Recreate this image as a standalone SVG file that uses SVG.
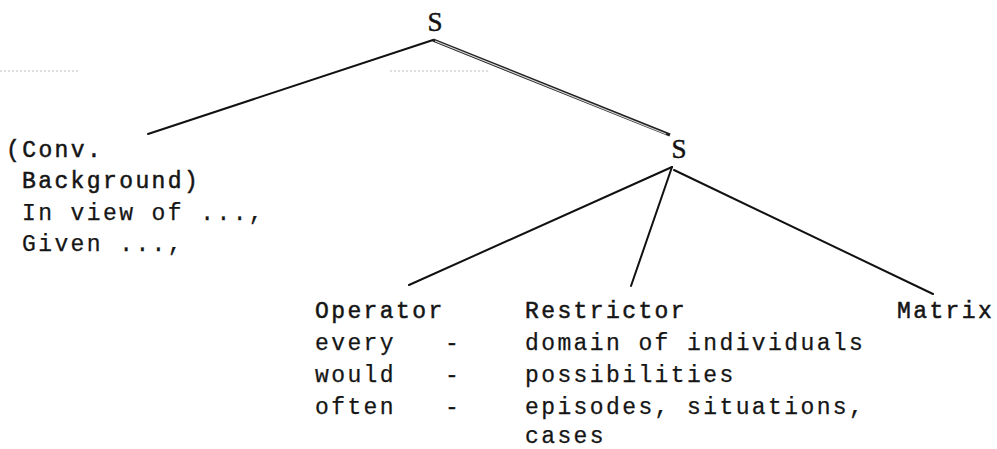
<svg xmlns="http://www.w3.org/2000/svg" width="997" height="449" viewBox="0 0 997 449">
<style>
.t{font-family:"Liberation Mono","Courier New",monospace;font-size:23px;letter-spacing:2.4px;fill:#151515;stroke:#151515;stroke-width:0.25px;white-space:pre}
.b{stroke-width:0.5px}
.s{font-family:"Liberation Serif","Times New Roman",serif;font-size:27px;fill:#111;stroke:#111;stroke-width:0.5px;text-anchor:middle}
.ln{stroke:#111;stroke-width:2;fill:none;stroke-linecap:round}
.dot{stroke:#bbb;stroke-width:1;stroke-dasharray:2 2;fill:none}
</style>
<rect width="997" height="449" fill="#fff"/>
<g id="guides">
<line class="dot" x1="0" y1="71" x2="78" y2="71"/>
<line class="dot" x1="390" y1="71" x2="490" y2="71"/>
</g>
<g id="connectors">
<line class="ln" x1="433" y1="40" x2="148" y2="134"/>
<line x1="433" y1="40" x2="670" y2="135" stroke="#222" stroke-width="3.4"/>
<line x1="435" y1="41" x2="666" y2="134" stroke="#d8d8d8" stroke-width="1.1"/>
<line class="ln" x1="672" y1="167" x2="409" y2="285"/>
<line class="ln" x1="672" y1="167" x2="631" y2="286"/>
<line class="ln" x1="674" y1="170" x2="933" y2="294"/>
</g>
<g id="root-s"><text class="s" x="435" y="31">S</text></g>
<g id="s2"><text class="s" x="679" y="158">S</text></g>
<g id="background">
<text class="t b" x="6" y="157">(Conv.</text>
<text class="t b" x="22" y="188">Background)</text>
<text class="t" x="22" y="220">In view of ...,</text>
<text class="t" x="22" y="251">Given ...,</text>
</g>
<g id="operator">
<text class="t b" x="315" y="318">Operator</text>
<text class="t" x="315" y="350">every</text>
<text class="t" x="315" y="382">would</text>
<text class="t" x="315" y="414">often</text>
<text class="t" x="445" y="350">-</text>
<text class="t" x="445" y="382">-</text>
<text class="t" x="445" y="414">-</text>
</g>
<g id="restrictor">
<text class="t b" x="525" y="318">Restrictor</text>
<text class="t" x="525" y="350">domain of individuals</text>
<text class="t" x="525" y="382">possibilities</text>
<text class="t" x="525" y="414">episodes, situations,</text>
<text class="t" x="525" y="443">cases</text>
</g>
<g id="matrix"><text class="t b" x="897" y="318">Matrix</text></g>
</svg>
